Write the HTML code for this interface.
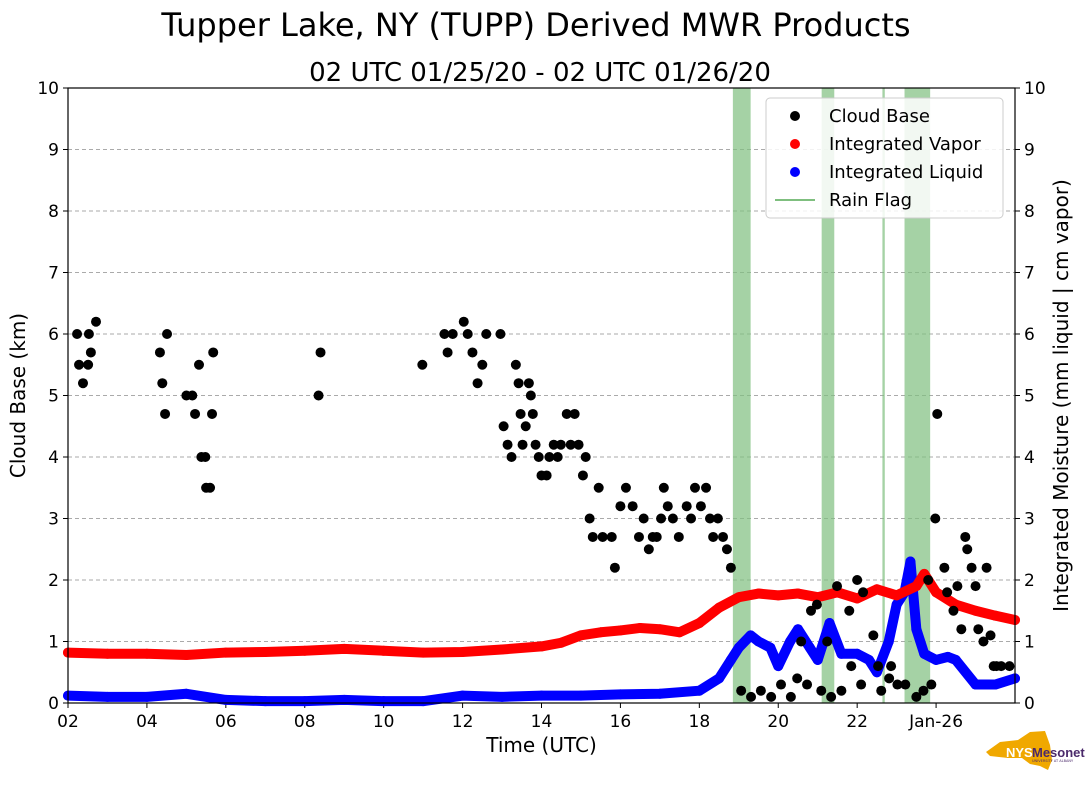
<!DOCTYPE html>
<html><head><meta charset="utf-8"><style>
body{margin:0;background:#fff;font-family:"Liberation Sans","DejaVu Sans",sans-serif}
</style></head><body>
<svg id="chart" width="1089" height="804" xmlns="http://www.w3.org/2000/svg" font-family="DejaVu Sans, Liberation Sans, sans-serif">
<text x="536" y="36" font-size="32" text-anchor="middle">Tupper Lake, NY (TUPP) Derived MWR Products</text>
<text x="540" y="81" font-size="26" text-anchor="middle">02 UTC 01/25/20 - 02 UTC 01/26/20</text>
<g id="plot"></g>
<g>
<path d="M1000 742 L1018 740 L1030 732 L1045 731 L1050 745 L1052 760 L1048 770 L1040 766 L1030 764 L1022 758 L1008 758 L990 756 L986 752 Z" fill="#f0a800"/>
<text x="1006" y="757" font-size="13" font-weight="bold" fill="#fff" font-family="Liberation Sans, sans-serif">NYS</text>
<text x="1032" y="757" font-size="13" font-weight="bold" fill="#4b2a6b" font-family="Liberation Sans, sans-serif">Mesonet</text>
<text x="1032" y="762" font-size="3.5" fill="#4b2a6b">UNIVERSITY AT ALBANY</text>
</g>
</svg>
<script>
const cbTime=[2.23,2.28,2.38,2.51,2.53,2.58,2.71,4.33,4.39,4.46,4.51,5.0,5.15,5.22,5.32,5.38,5.48,5.5,5.6,5.65,5.68,8.35,8.4,10.98,11.54,11.62,11.75,12.03,12.13,12.25,12.38,12.5,12.6,12.96,13.04,13.14,13.24,13.35,13.42,13.47,13.52,13.6,13.68,13.73,13.78,13.85,13.93,14.0,14.13,14.2,14.31,14.41,14.49,14.64,14.74,14.84,14.94,15.05,15.12,15.22,15.3,15.45,15.55,15.78,15.86,16.0,16.14,16.31,16.47,16.59,16.72,16.82,16.92,17.03,17.1,17.2,17.33,17.48,17.68,17.79,17.89,18.04,18.17,18.27,18.35,18.47,18.6,18.7,18.8,19.06,19.31,19.56,19.82,20.07,20.32,20.48,20.73,21.09,21.34,21.6,21.85,22.1,22.61,22.81,23.02,23.22,23.5,23.68,23.88,20.58,20.83,20.98,21.24,21.49,21.8,22.0,22.15,22.41,22.53,22.86,23.8,24.03,23.98,24.21,24.28,24.44,24.54,24.64,24.74,24.79,24.9,25.0,25.07,25.2,25.28,25.38,25.46,25.53,25.65,25.86];
const cbKm=[6.0,5.5,5.2,5.5,6.0,5.7,6.2,5.7,5.2,4.7,6.0,5.0,5.0,4.7,5.5,4.0,4.0,3.5,3.5,4.7,5.7,5.0,5.7,5.5,6.0,5.7,6.0,6.2,6.0,5.7,5.2,5.5,6.0,6.0,4.5,4.2,4.0,5.5,5.2,4.7,4.2,4.5,5.2,5.0,4.7,4.2,4.0,3.7,3.7,4.0,4.2,4.0,4.2,4.7,4.2,4.7,4.2,3.7,4.0,3.0,2.7,3.5,2.7,2.7,2.2,3.2,3.5,3.2,2.7,3.0,2.5,2.7,2.7,3.0,3.5,3.2,3.0,2.7,3.2,3.0,3.5,3.2,3.5,3.0,2.7,3.0,2.7,2.5,2.2,0.2,0.1,0.2,0.1,0.3,0.1,0.4,0.3,0.2,0.1,0.2,0.6,0.3,0.2,0.4,0.3,0.3,0.1,0.2,0.3,1.0,1.5,1.6,1.0,1.9,1.5,2.0,1.8,1.1,0.6,0.6,2.0,4.7,3.0,2.2,1.8,1.5,1.9,1.2,2.7,2.5,2.2,1.9,1.2,1.0,2.2,1.1,0.6,0.6,0.6,0.6];
const ivTime=[2,3,4,5,6,7,8,9,10,11,12,13,14,14.5,15,15.5,16,16.5,17,17.5,18,18.5,19,19.5,20,20.5,21,21.5,22,22.5,23,23.5,23.7,24,24.5,25,25.5,26];
const ivVal=[0.82,0.8,0.8,0.78,0.82,0.83,0.85,0.88,0.85,0.82,0.83,0.87,0.92,0.98,1.1,1.15,1.18,1.22,1.2,1.15,1.3,1.55,1.72,1.78,1.75,1.78,1.72,1.8,1.7,1.85,1.75,1.9,2.1,1.8,1.6,1.5,1.42,1.35];
const ilTime=[2,3,4,5,6,7,8,9,10,11,12,13,14,15,16,17,18,18.5,18.8,19,19.3,19.5,19.8,20,20.3,20.5,20.8,21,21.3,21.6,22,22.3,22.5,22.8,23,23.2,23.35,23.5,23.7,24,24.3,24.5,25,25.5,26];
const ilVal=[0.12,0.1,0.1,0.15,0.05,0.03,0.03,0.05,0.03,0.03,0.12,0.1,0.12,0.12,0.14,0.15,0.2,0.4,0.7,0.9,1.1,1.0,0.9,0.6,1.0,1.2,0.9,0.7,1.3,0.8,0.8,0.7,0.5,1.0,1.6,1.8,2.3,1.2,0.8,0.7,0.75,0.7,0.3,0.3,0.4];
const rainStart=[18.85,21.1,22.64,23.2];
const rainEnd=[19.3,21.42,22.7,23.85];
const xTicks=[2,4,6,8,10,12,14,16,18,20,22,24];
const xTickLabels=["02","04","06","08","10","12","14","16","18","20","22","Jan-26"];
const yTicks=[0,1,2,3,4,5,6,7,8,9,10];

const L=68,R=1015,T=88,B=703;
const x=h=>L+(h-2)/24*(R-L);
const y=v=>B-v/10*(B-T);
const NS="http://www.w3.org/2000/svg";
const g=document.getElementById('plot');
function mk(tag,attrs,parent){const e=document.createElementNS(NS,tag);for(const k in attrs)e.setAttribute(k,attrs[k]);(parent||g).appendChild(e);return e;}

yTicks.forEach(v=>{
  if(v>0&&v<10){const l=mk('line',{x1:L,x2:R,y1:y(v),y2:y(v),stroke:'#aaa','stroke-dasharray':'4,3','stroke-width':1});
  
  }
  mk('line',{x1:L-5,x2:L,y1:y(v),y2:y(v),stroke:'#000'});
  mk('line',{x1:R,x2:R+5,y1:y(v),y2:y(v),stroke:'#000'});
  const t1=mk('text',{x:L-9,y:y(v)+6,'font-size':17,'text-anchor':'end'});t1.textContent=v;
  
  
  const t2=mk('text',{x:R+9,y:y(v)+6,'font-size':17});t2.textContent=v;
  
  
});
xTicks.forEach((h,i)=>{
  mk('line',{x1:x(h),x2:x(h),y1:B,y2:B+5,stroke:'#000'});
  const t=mk('text',{x:x(h),y:B+24,'font-size':17,'text-anchor':'middle'});t.textContent=xTickLabels[i];
  
  
});
rainStart.forEach((s,i)=>{
  const r=mk('rect',{x:x(s),y:T,width:Math.max(2,x(rainEnd[i])-x(s)),height:B-T,fill:'#7fbf7f','fill-opacity':0.7});
  
  
});
function series(ts,vs,color,name,line){
  if(line){const pl=mk('polyline',{points:ts.map((t,i)=>x(t)+','+y(vs[i])).join(' '),fill:'none',stroke:color,'stroke-width':10,'stroke-linejoin':'round','stroke-linecap':'round'});
  
  }
  ts.forEach((t,i)=>{const c=mk('circle',{cx:x(t),cy:y(vs[i]),r:5,fill:color});
  
  });
}
series(ilTime,ilVal,'#0000ff','integrated-liquid',true);
series(ivTime,ivVal,'#ff0000','integrated-vapor',true);
series(cbTime,cbKm,'#000','cloud-base',false);

const fr=mk('rect',{x:L,y:T,width:R-L,height:B-T,fill:'none',stroke:'#000','stroke-width':1.2});



const xt=mk('text',{x:(L+R)/2,y:752,'font-size':20,'text-anchor':'middle'});xt.textContent='Time (UTC)';


const yl=mk('text',{x:0,y:0,'font-size':20,'text-anchor':'middle',transform:`translate(25,${(T+B)/2}) rotate(-90)`});yl.textContent='Cloud Base (km)';


const yr=mk('text',{x:0,y:0,'font-size':20,'text-anchor':'middle',transform:`translate(1068,${(T+B)/2}) rotate(-90)`});yr.textContent='Integrated Moisture (mm liquid | cm vapor)';



const lg=mk('g',{});


mk('rect',{x:766,y:98,width:237,height:120,rx:4,fill:'#fff','fill-opacity':0.85,stroke:'#ccc'},lg);
const items=[['Cloud Base','#000','dot'],['Integrated Vapor','#f00','dot'],['Integrated Liquid','#00f','dot'],['Rain Flag','#7fbf7f','line']];
items.forEach((it,i)=>{
  const yy=116+i*28;
  const e=mk('g',{},lg);
  
  
  if(it[2]==='dot')mk('circle',{cx:795,cy:yy,r:5,fill:it[1]},e);
  else mk('line',{x1:775,x2:815,y1:yy,y2:yy,stroke:it[1],'stroke-width':2},e);
  const t=mk('text',{x:829,y:yy+6,'font-size':18},e);t.textContent=it[0];
});
</script>
</body></html>
